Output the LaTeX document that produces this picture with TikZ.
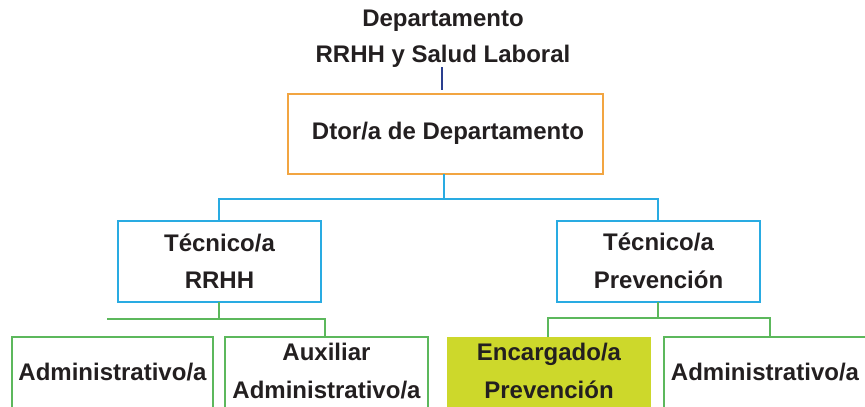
\documentclass[tikz,border=0pt]{standalone}
\usepackage{fontspec}
\setmainfont{Liberation Sans}
\definecolor{txt}{HTML}{231F20}
\definecolor{orangeb}{HTML}{F2A541}
\definecolor{cyanb}{HTML}{29ABE2}
\definecolor{greenb}{HTML}{5CB85C}
\definecolor{yellowf}{HTML}{CDD82B}
\definecolor{navyl}{HTML}{2A3F8F}
\begin{document}
\begin{tikzpicture}[x=1pt,y=-1pt,
  lbl/.style={font=\fontsize{24}{37.5}\selectfont\bfseries, text=txt, align=center, inner sep=0pt},
  boxo/.style={draw=orangeb, line width=2.4pt},
  boxc/.style={draw=cyanb, line width=2.4pt},
  boxg/.style={draw=greenb, line width=2.4pt},
  linec/.style={draw=cyanb, line width=2.4pt},
  lineg/.style={draw=greenb, line width=2.4pt}]
\useasboundingbox (0,0) rectangle (865,407);
\clip (0,0) rectangle (865,407);
% title
\node[lbl, font=\fontsize{24}{36}\selectfont\bfseries] (title) at (443,39) {Departamento\\RRHH y Salud Laboral};
\coordinate (t1) at (442,67);
\coordinate (t2) at (442,90);
\draw[navyl, line width=2pt] (t1) -- (t2);
% director
\draw[boxo] (288,94) rectangle (603,174);
\node[lbl] (dir) at (448,133) {Dtor/a de Departamento};
% tecnicos
\draw[boxc] (118,221) rectangle (321,302);
\node[lbl] (tecr) at (219.5,261) {Técnico/a\\RRHH};
\draw[boxc] (557,221) rectangle (760,302);
\node[lbl] (tecp) at (658.5,261) {Técnico/a\\Prevención};
\coordinate (d0) at (444,174);
\coordinate (d1) at (444,199);
\coordinate (dl) at (219,199);
\coordinate (dr) at (658,199);
\draw[linec] (d0) -- (d1);
\draw[linec] (219,221) -- (dl) -- (dr) -- (658,221);
% bottom row
\draw[boxg] (12,337) rectangle (213,430);
\node[lbl] (adm1) at (112.5,372) {Administrativo/a};
\draw[boxg] (225,337) rectangle (428,430);
\node[lbl] (aux) at (326.5,371) {Auxiliar\\Administrativo/a};
\fill[yellowf] (447,337) rectangle (651,430);
\node[lbl] (enc) at (549,371) {Encargado/a\\Prevención};
\draw[boxg] (664,337) rectangle (866,430);
\node[lbl] (adm2) at (765,372) {Administrativo/a};
% green connectors
\coordinate (gl) at (219,319);
\coordinate (gr) at (658,318);
\draw[lineg] (219,302) -- (gl);
\draw[lineg] (107,319) -- (325,319) -- (325,337);
\draw[lineg] (658,302) -- (gr);
\draw[lineg] (548,337) -- (548,318) -- (770,318) -- (770,337);
\end{tikzpicture}
\end{document}
